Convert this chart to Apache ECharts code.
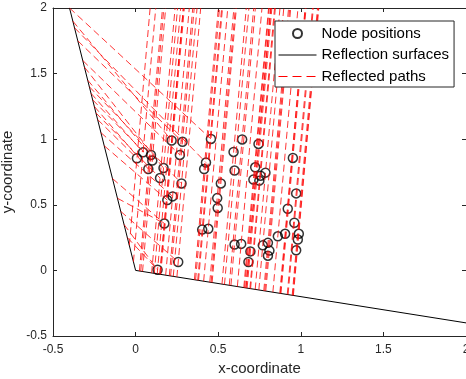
<!DOCTYPE html>
<html>
<head>
<meta charset="utf-8">
<script src="https://cdn.jsdelivr.net/npm/echarts@6/dist/echarts.min.js"></script>
<style>
  html, body { margin: 0; padding: 0; background: #fff; }
  #chart { width: 466px; height: 379px; }
</style>
</head>
<body>
<div id="chart"></div>
<script>
// axis ticks
const xTicks = [-0.5, 0, 0.5, 1, 1.5, 2]
const yTicks = [-0.5, 0, 0.5, 1, 1.5, 2]

// node positions
const nodeX = [0.218, 0.284, 0.268, 0.045, 0.093, 0.101, 0.008, 0.077, 0.169, 0.148,
  0.278, 0.224, 0.192, 0.456, 0.426, 0.415, 0.516, 0.494, 0.497, 0.645,
  0.744, 0.593, 0.952, 0.599, 0.724, 0.786, 0.756, 0.713, 0.749, 0.972,
  0.174, 0.403, 0.440, 0.258, 0.133, 0.921, 0.961, 0.905, 0.988, 0.861,
  0.982, 0.599, 0.639, 0.770, 0.801, 0.695, 0.810, 0.801, 0.972, 0.683]
const nodeY = [0.990, 0.980, 0.880, 0.900, 0.880, 0.837, 0.855, 0.773, 0.780, 0.704,
  0.663, 0.564, 0.536, 1.002, 0.822, 0.773, 0.663, 0.551, 0.476, 0.998,
  0.964, 0.903, 0.857, 0.761, 0.786, 0.745, 0.722, 0.692, 0.684, 0.587,
  0.357, 0.311, 0.317, 0.064, 0.005, 0.470, 0.363, 0.279, 0.279, 0.260,
  0.235, 0.197, 0.202, 0.191, 0.210, 0.145, 0.151, 0.112, 0.153, 0.064]

// reflection surfaces (polyline)
const surfaceX = [-0.4, 0, 2]
const surfaceY = [2, 0, -0.4]

// reflected path segments: start (x0,y0) -> end (x1,y1)
const pathX0 = [0.147, 0.212, 0.204, -0.013, 0.031, 0.042, -0.038, 0.023, 0.113, 0.097,
  0.228, 0.182, 0.152, 0.381, 0.363, 0.356, 0.463, 0.449, 0.457, 0.567,
  0.667, 0.523, 0.880, 0.538, 0.660, 0.724, 0.696, 0.655, 0.692, 0.918,
  0.147, 0.376, 0.412, 0.250, 0.131, 0.876, 0.923, 0.873, 0.955, 0.831,
  0.952, 0.577, 0.616, 0.746, 0.776, 0.675, 0.788, 0.782, 0.948, 0.669,
  -0.38, -0.35, -0.32, -0.27, -0.29, -0.26, -0.23, -0.25, -0.31, -0.24,
  -0.28, -0.21, -0.19, -0.14, -0.09, -0.07, -0.40, -0.37, -0.11, -0.05]
const pathY0 = [-0.029, -0.042, -0.041, 0.067, -0.006, -0.008, 0.192, -0.005, -0.023, -0.020,
  -0.046, -0.036, -0.030, -0.076, -0.073, -0.071, -0.093, -0.090, -0.091, -0.113,
  -0.133, -0.104, -0.176, -0.108, -0.132, -0.145, -0.139, -0.131, -0.138, -0.183,
  -0.029, -0.075, -0.082, -0.050, -0.026, -0.175, -0.184, -0.174, -0.191, -0.166,
  -0.190, -0.115, -0.123, -0.149, -0.155, -0.135, -0.157, -0.156, -0.189, -0.134,
  1.90, 1.75, 1.60, 1.35, 1.45, 1.30, 1.15, 1.25, 1.55, 1.20,
  1.40, 1.05, 0.95, 0.70, 0.45, 0.35, 2.00, 1.85, 0.55, 0.25]
const pathX1 = [0.289, 0.355, 0.346, 0.122, 0.171, 0.182, 0.088, 0.163, 0.254, 0.239,
  0.372, 0.325, 0.295, 0.526, 0.508, 0.501, 0.610, 0.595, 0.604, 0.715,
  0.817, 0.670, 1.032, 0.686, 0.809, 0.874, 0.846, 0.805, 0.841, 1.071,
  0.289, 0.521, 0.558, 0.394, 0.273, 1.028, 1.076, 1.026, 1.109, 0.983,
  1.106, 0.725, 0.765, 0.897, 0.926, 0.825, 0.939, 0.933, 1.101, 0.819,
  0.218, 0.284, 0.268, 0.045, 0.093, 0.101, 0.008, 0.077, 0.169, 0.148,
  0.278, 0.224, 0.192, 0.174, 0.258, 0.133, 0.456, 0.426, 0.174, 0.133]
const pathY1 = [2, 2, 2, 2, 2, 2, 2, 2, 2, 2,
  2, 2, 2, 2, 2, 2, 2, 2, 2, 2,
  2, 2, 2, 2, 2, 2, 2, 2, 2, 2,
  2, 2, 2, 2, 2, 2, 2, 2, 2, 2,
  2, 2, 2, 2, 2, 2, 2, 2, 2, 2,
  0.990, 0.980, 0.880, 0.900, 0.880, 0.837, 0.855, 0.773, 0.780, 0.704,
  0.663, 0.564, 0.536, 0.357, 0.064, 0.005, 1.002, 0.822, 0.357, 0.005]

const FONT = "'Liberation Sans', Arial, Helvetica, sans-serif"
const AXIS = "#262626"

const nodes = nodeX.map((x, i) => [x, nodeY[i]])
const surface = surfaceX.map((x, i) => [x, surfaceY[i]])
// one line series, segments split by empty points
const paths = []
pathX0.forEach((x, i) => {
  paths.push([x, pathY0[i]], [pathX1[i], pathY1[i]], ["-", "-"])
})

function valueAxis(ticks, extra) {
  return Object.assign({
    type: "value",
    min: ticks[0],
    max: ticks[ticks.length - 1],
    interval: ticks[1] - ticks[0],
    axisLine: { show: true, onZero: false, lineStyle: { color: AXIS, width: 1 } },
    axisTick: { show: true, inside: true, length: 4, lineStyle: { color: AXIS } },
    splitLine: { show: false },
  }, extra)
}

// hide the dot ECharts puts on line-series legend icons
const noDot = { opacity: 0 }

const chart = echarts.init(document.getElementById("chart"), null, { renderer: "canvas" })
chart.setOption({
  animation: false,
  textStyle: { fontFamily: FONT },
  grid: { left: 53, right: 0, top: 8, bottom: 43, containLabel: false, outerBoundsMode: "none" },
  xAxis: [
    valueAxis(xTicks, {
      position: "bottom",
      name: "x-coordinate",
      nameLocation: "middle",
      nameGap: 24,
      nameTextStyle: { fontSize: 15, color: AXIS, fontFamily: FONT },
      axisLabel: { fontSize: 12, color: AXIS, margin: 8, fontFamily: FONT, showMinLabel: true, showMaxLabel: true },
    }),
    valueAxis(xTicks, { position: "top", axisLabel: { show: false } }),
  ],
  yAxis: [
    valueAxis(yTicks, {
      position: "left",
      name: "y-coordinate",
      nameLocation: "middle",
      nameGap: 26,
      nameTextStyle: { fontSize: 15, color: AXIS, fontFamily: FONT },
      axisLabel: { fontSize: 12, color: AXIS, margin: 6, fontFamily: FONT, showMinLabel: true, showMaxLabel: true },
    }),
    valueAxis(yTicks, { position: "right", axisLabel: { show: false } }),
  ],
  legend: {
    orient: "vertical",
    left: 275,
    top: 21,
    padding: [5, 5, 3, 3],
    itemWidth: 38,
    itemHeight: 9,
    itemGap: 6.5,
    backgroundColor: "#fff",
    borderColor: AXIS,
    borderWidth: 1,
    borderRadius: 0,
    textStyle: { fontSize: 15, color: "#000", fontFamily: FONT },
    data: [
      { name: "Node positions" },
      { name: "Reflection surfaces", itemStyle: noDot, lineStyle: { width: 1 } },
      { name: "Reflected paths", itemStyle: noDot, lineStyle: { width: 1, type: [9, 5] } },
    ],
  },
  series: [
    {
      name: "Node positions",
      type: "scatter",
      data: nodes,
      symbol: "circle",
      symbolSize: 9,
      itemStyle: { color: "transparent", borderColor: "#000", borderWidth: 1.5 },
    },
    {
      name: "Reflection surfaces",
      type: "line",
      data: surface,
      symbol: "none",
      lineStyle: { color: "#000", width: 1 },
      itemStyle: { color: "#000" },
    },
    {
      name: "Reflected paths",
      type: "line",
      data: paths,
      symbol: "none",
      connectNulls: false,
      lineStyle: { color: "#ff0000", width: 0.8, type: [7, 4] },
      itemStyle: { color: "#ff0000" },
    },
  ],
})
</script>
</body>
</html>
